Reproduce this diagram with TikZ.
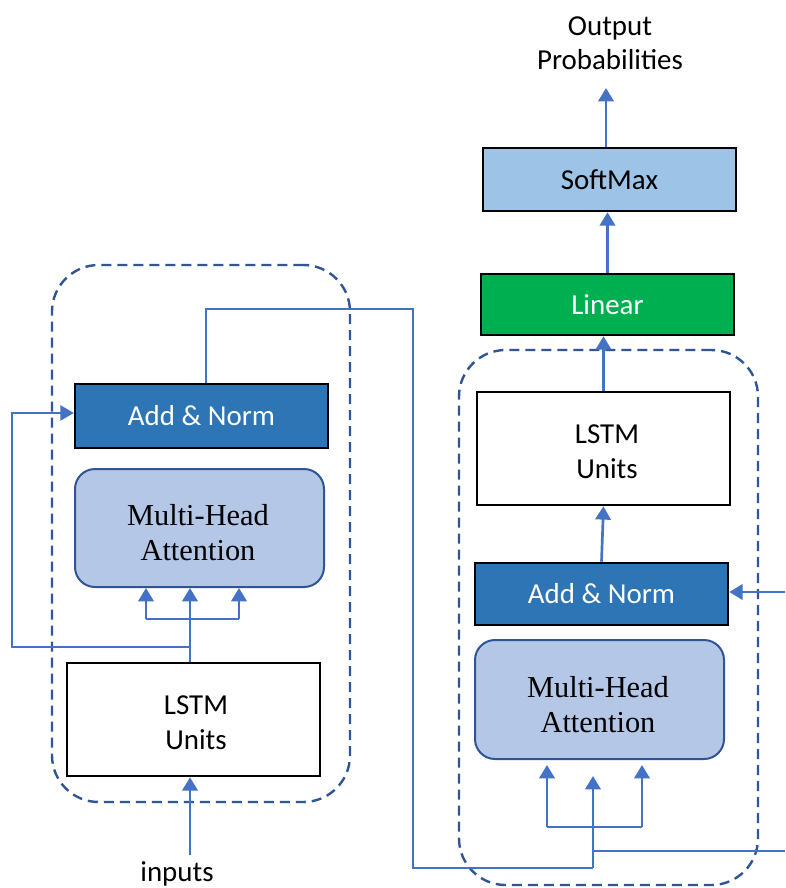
\documentclass[tikz,border=0pt]{standalone}
\usepackage{fontspec}
\setmainfont{Carlito}
\newfontfamily\tnr{Liberation Serif}
\usetikzlibrary{arrows.meta}
\definecolor{ablue}{HTML}{4472C4}
\definecolor{dblue}{HTML}{2F5597}
\definecolor{anfill}{HTML}{2E75B6}
\definecolor{mhafill}{HTML}{B4C7E7}
\definecolor{smfill}{HTML}{9DC3E6}
\definecolor{linfill}{HTML}{00B050}
\tikzset{
  sq/.style={draw=black, line width=1.9pt, rectangle, inner sep=0pt, align=center,
             font=\fontsize{21.7}{27}\selectfont},
  anbox/.style={sq, fill=anfill, text=white, minimum width=189.75pt},
  whitebox/.style={sq, fill=white, minimum width=189.75pt, minimum height=84.75pt},
  mhabox/.style={draw=dblue, line width=1.5pt, fill=mhafill, rounded corners=15pt,
             minimum width=186.75pt, inner sep=0pt},
  mhatext/.style={align=center, inner sep=0pt, font=\tnr\fontsize{22.8}{26.3}\selectfont},
  lstmtext/.style={align=center, inner sep=0pt, font=\fontsize{21.7}{26.5}\selectfont},
  dashbox/.style={draw=dblue, line width=1.8pt, dash pattern=on 7.5pt off 4.5pt,
             rounded corners=35pt, rectangle, inner sep=0pt},
  arr/.style={draw=ablue, line width=2pt, -{Triangle[length=10pt,width=11.5pt]}},
  thinarr/.style={draw=ablue, line width=1pt, -{Triangle[length=10pt,width=11.5pt]}},
  thinl/.style={draw=ablue, line width=1pt},
  midl/.style={draw=ablue, line width=1.4pt},
  lbl/.style={align=center, inner sep=0pt, font=\fontsize{21.7}{25.5}\selectfont}
}
\begin{document}
\begin{tikzpicture}[x=0.75pt, y=-0.75pt]
\path[use as bounding box, fill=white] (0,0) rectangle (785,888);

% dashed group boxes
\node[dashbox, minimum width=223.5pt, minimum height=402.75pt] (ldash) at (201,533.5) {};
\node[dashbox, minimum width=224.25pt, minimum height=401.25pt] (rdash) at (608.5,617.5) {};

% left (encoder) column
\node[anbox, minimum height=48pt] (lan) at (201.5,416) {Add \& Norm};
\node[mhabox, minimum height=88.5pt] (lmha) at (199.5,528) {};
\node[mhatext] (lmhat) at (198,532.5) {Multi-Head\\Attention};
\node[whitebox] (llstm) at (193.5,719.5) {};
\node[lstmtext] (llstmt) at (196,722.5) {LSTM\\Units};
\node[lbl, anchor=base] (inp) at (177,881) {inputs};

% right (decoder) column
\node[anbox, minimum height=46.5pt] (ran) at (601.5,594) {Add \& Norm};
\node[mhabox, minimum height=89.25pt] (rmha) at (599.5,699.5) {};
\node[mhatext] (rmhat) at (598,704.5) {Multi-Head\\Attention};
\node[whitebox] (rlstm) at (603.5,448.5) {};
\node[lstmtext] (rlstmt) at (607,452) {LSTM\\Units};
\node[sq, fill=linfill, text=white, minimum width=189.75pt, minimum height=45.75pt] (lin) at (607.5,304.5) {Linear};
\node[sq, fill=smfill, minimum width=189.75pt, minimum height=47.25pt] (sm) at (609.5,179.5) {SoftMax};
\node[lbl] (out) at (610,43) {Output\\Probabilities};

% coordinates for free ends
\coordinate (lxa) at (146,619);
\coordinate (lxb) at (190,647);
\coordinate (lxc) at (239,619);
\coordinate (lskip) at (12,647);
\coordinate (inbot) at (190,855);
\coordinate (ltop) at (206,309);
\coordinate (lright) at (413,309);
\coordinate (lbot) at (413,868);
\coordinate (rmid) at (593,868);
\coordinate (rmidtip) at (593,776);
\coordinate (rxa) at (547,827);
\coordinate (rxc) at (642,827);
\coordinate (rin) at (785,851);
\coordinate (ranin) at (785,592);
\coordinate (otip) at (606,88);

% left connectors
\draw[arr] (inbot) -- (inbot |- llstm.south);
\draw[arr] (lxb |- llstm.north) -- (lxb |- lmha.south);
\draw[midl] (lxa) -- (lxc);
\draw[arr] (lxa) -- (lxa |- lmha.south);
\draw[arr] (lxc) -- (lxc |- lmha.south);
\draw[thinarr] (lxb) -- (lskip) -- ([yshift=2.25pt]lskip |- lan.west) -- ([yshift=2.25pt]lan.west);
\draw[thinl] (ltop |- lan.north) -- (ltop) -- (lright) -- (lbot) -- (rmid);

% right connectors
\draw[arr] (rmid) -- (rmidtip);
\draw[thinl] (rin) -- (rin -| rmid);
\draw[midl] (rxa) -- (rxc);
\draw[arr] (rxa) -- ([yshift=-3.75pt]rxa |- rmha.south);
\draw[arr] (rxc) -- ([yshift=-3.75pt]rxc |- rmha.south);
\draw[arr] (ranin) -- (ranin -| ran.east);
\draw[arr] (ran.north) -- (rlstm.south);
\draw[arr] (rlstm.north) -- (rlstm.north |- lin.south);
\draw[arr] (lin.north) -- (lin.north |- sm.south);
\draw[arr] (sm.north -| otip) -- (otip);
\end{tikzpicture}
\end{document}
